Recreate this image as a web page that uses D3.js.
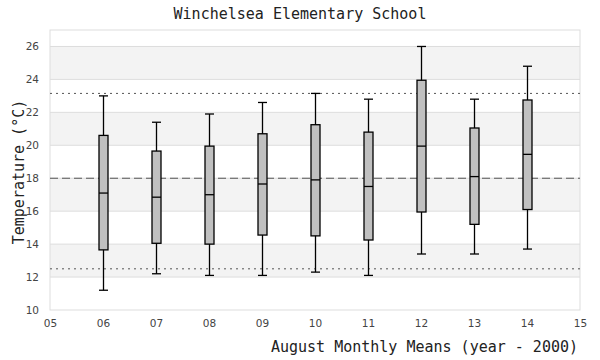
<!DOCTYPE html>
<html><head><meta charset="utf-8">
<script src="https://cdn.jsdelivr.net/npm/d3@7"></script>
<style>body{margin:0;background:#fff}svg{display:block}</style>
</head><body>
<svg id="c" width="600" height="360"></svg>
<script>
const years = ["06","07","08","09","10","11","12","13","14"];
const whiskerLow  = [11.2, 12.2, 12.1, 12.1, 12.3, 12.1, 13.4, 13.4, 13.7];
const q1          = [13.65,14.05,14.0, 14.55,14.5, 14.25,15.95,15.2, 16.1];
const median      = [17.1, 16.85,17.0, 17.65,17.9, 17.5, 19.95,18.1, 19.45];
const q3          = [20.6, 19.65,19.95,20.7, 21.25,20.8, 23.95,21.05,22.75];
const whiskerHigh = [23.0, 21.4, 21.9, 22.6, 23.15,22.8, 26.0, 22.8, 24.8];
const xTicks = ["05","06","07","08","09","10","11","12","13","14","15"];
const yTicks = [10,12,14,16,18,20,22,24,26];
const bands = [[12,14],[16,18],[20,22],[24,26]];
const meanLine = 18.0;
const limitLines = [23.15, 12.5];

const svg = d3.select("#c");
const L=50,R=580,T=30,B=310;
const x = d3.scaleLinear().domain([5,15]).range([L,R]);
const y = d3.scaleLinear().domain([10,27]).range([B,T]);
const mono = "'DejaVu Sans Mono', monospace";

svg.append("g").selectAll("rect").data(bands).join("rect")
  .attr("x",L).attr("width",R-L)
  .attr("y",d=>y(d[1])).attr("height",d=>y(d[0])-y(d[1]))
  .attr("fill","#f3f3f3");

svg.append("g").selectAll("line").data(yTicks.slice(1)).join("line")
  .attr("x1",L).attr("x2",R).attr("y1",d=>y(d)).attr("y2",d=>y(d))
  .attr("stroke","#dddddd").attr("stroke-width",1);

svg.append("rect").attr("x",L).attr("y",T).attr("width",R-L).attr("height",B-T)
  .attr("fill","none").attr("stroke","#dddddd").attr("stroke-width",1);

// reference lines
svg.append("line").attr("x1",L).attr("x2",R).attr("y1",y(meanLine)).attr("y2",y(meanLine))
  .attr("stroke","#555").attr("stroke-width",1).attr("stroke-dasharray","8,4");
svg.append("g").selectAll("line").data(limitLines).join("line")
  .attr("x1",L).attr("x2",R).attr("y1",d=>y(d)).attr("y2",d=>y(d))
  .attr("stroke","#555").attr("stroke-width",1).attr("stroke-dasharray","2,4");

// axes
const yAxis = d3.axisLeft(y).tickValues(yTicks).tickSize(0).tickPadding(11);
const gy = svg.append("g").attr("transform",`translate(${L},0)`).call(yAxis);
const xAxis = d3.axisBottom(x).tickValues(xTicks.map(Number)).tickFormat((d,i)=>xTicks[i]).tickSize(0).tickPadding(10);
const gx = svg.append("g").attr("transform",`translate(0,${B})`).call(xAxis);
[gy,gx].forEach(g=>{
  g.select(".domain").remove();
  g.selectAll("text").attr("fill","#444").attr("font-family","'DejaVu Sans', sans-serif").attr("font-size",10.5);
});

// boxes
const bw = 9;
const data = years.map((yr,i)=>({x:+yr, lo:whiskerLow[i], q1:q1[i], med:median[i], q3:q3[i], hi:whiskerHigh[i]}));
const g = svg.append("g").selectAll("g").data(data).join("g");
const cx = d=>Math.round(x(d.x))+0.5;
g.append("line").attr("x1",cx).attr("x2",cx)
  .attr("y1",d=>y(d.hi)).attr("y2",d=>y(d.lo)).attr("stroke","#000").attr("stroke-width",1.3);
g.append("line").attr("x1",d=>cx(d)-bw/2).attr("x2",d=>cx(d)+bw/2)
  .attr("y1",d=>y(d.hi)).attr("y2",d=>y(d.hi)).attr("stroke","#000").attr("stroke-width",1.3);
g.append("line").attr("x1",d=>cx(d)-bw/2).attr("x2",d=>cx(d)+bw/2)
  .attr("y1",d=>y(d.lo)).attr("y2",d=>y(d.lo)).attr("stroke","#000").attr("stroke-width",1.3);
g.append("rect").attr("x",d=>cx(d)-bw/2).attr("width",bw)
  .attr("y",d=>y(d.q3)).attr("height",d=>y(d.q1)-y(d.q3))
  .attr("fill","#c0c0c0").attr("stroke","#000").attr("stroke-width",1.3);
g.append("line").attr("x1",d=>cx(d)-bw/2).attr("x2",d=>cx(d)+bw/2)
  .attr("y1",d=>y(d.med)).attr("y2",d=>y(d.med)).attr("stroke","#000").attr("stroke-width",1.3);

// titles
svg.append("text").attr("x",300).attr("y",19).attr("text-anchor","middle")
  .attr("font-family",mono).attr("font-size",15).attr("fill","#222")
  .text("Winchelsea Elementary School");
svg.append("text").attr("x",578).attr("y",352).attr("text-anchor","end")
  .attr("font-family",mono).attr("font-size",15).attr("fill","#222")
  .text("August Monthly Means (year - 2000)");
svg.append("text").attr("transform","translate(24,172) rotate(-90)").attr("text-anchor","middle")
  .attr("font-family",mono).attr("font-size",15).attr("fill","#222")
  .text("Temperature (°C)");
</script>
</body></html>
